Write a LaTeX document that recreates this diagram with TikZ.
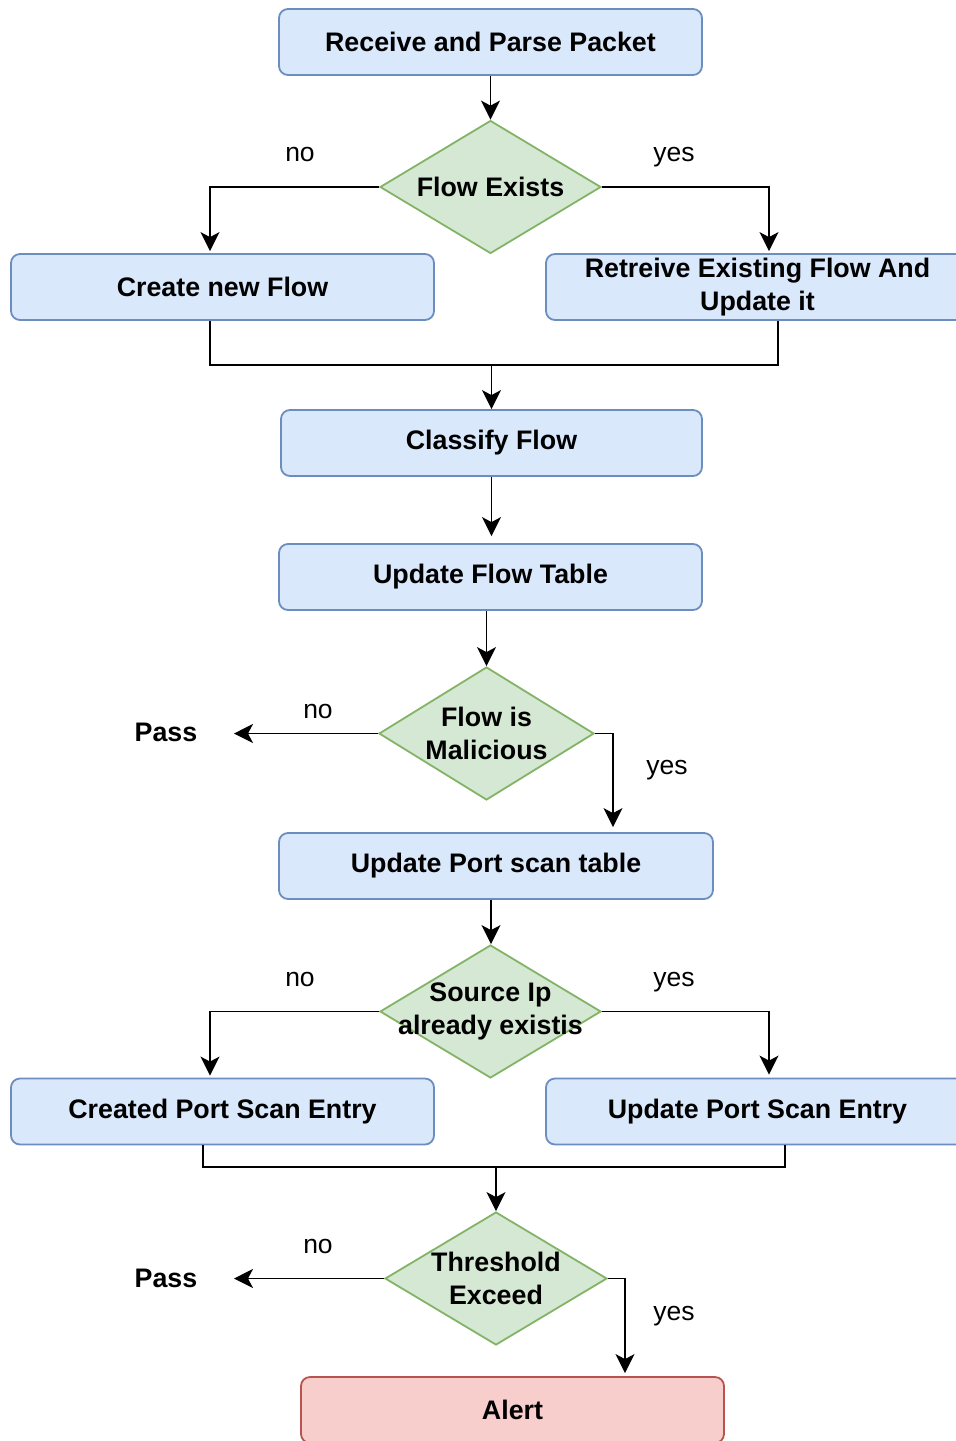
\documentclass[tikz,border=0pt]{standalone}
\usepackage{fontspec}
\setmainfont{Liberation Sans}
\usetikzlibrary{shapes.geometric,arrows.meta}
\definecolor{procfill}{HTML}{DAE8FC}
\definecolor{procdraw}{HTML}{6C8EBF}
\definecolor{decfill}{HTML}{D5E8D4}
\definecolor{decdraw}{HTML}{82B366}
\definecolor{alertfill}{HTML}{F8CECC}
\definecolor{alertdraw}{HTML}{B85450}
\begin{document}
\begin{tikzpicture}[x=1pt,y=-1pt,
  bigfont/.style={font=\bfseries\fontsize{26.8}{33.5}\selectfont},
  proc/.style={draw=procdraw, fill=procfill, line width=1.8pt, rounded corners=9pt,
    minimum width=423pt, minimum height=66pt, inner sep=0pt, align=center, bigfont},
  alertbox/.style={proc, draw=alertdraw, fill=alertfill},
  decision/.style={diamond, draw=decdraw, fill=decfill, line width=1.8pt,
    minimum width=221pt, minimum height=133pt, inner sep=0pt},
  dtext/.style={align=center, bigfont, inner sep=0pt},
  passtxt/.style={bigfont, inner sep=0pt},
  lbl/.style={font=\fontsize{26.5}{30}\selectfont, inner sep=0pt},
  arr/.style={line width=1.8pt, -{Stealth[length=19pt,width=19pt,inset=5pt]}},
  link/.style={line width=1.8pt}
]
\useasboundingbox (0,0) rectangle (956,1441);
\clip (0,0) rectangle (956,1441);

% process steps
\node[proc] (recv) at (490.5,42) {Receive and Parse Packet};
\node[decision] (fe) at (490.5,187) {};
\node[dtext] (fet) at (fe.center) {Flow Exists};
\node[proc] (newf) at (222.5,287) {Create new Flow};
\node[proc] (retr) at (757.5,287) {Retreive Existing Flow And\\Update it};
\node[proc, minimum width=421pt] (cls) at (491.5,443) {Classify Flow};
\node[proc] (uft) at (490.5,577) {Update Flow Table};
\node[decision, minimum width=215pt] (mal) at (486.5,733.5) {};
\node[dtext] (malt) at (mal.center) {Flow is\\Malicious};
\node[passtxt] (pass1) at (166,732) {Pass};
\coordinate (p1) at (234,733.5);
\node[proc, minimum width=434pt] (ups) at (496,866) {Update Port scan table};
\node[decision] (src) at (490.5,1011.5) {};
\node[dtext] (srct) at (src.center) {Source Ip\\already existis};
\node[proc] (cpe) at (222.5,1111.5) {Created Port Scan Entry};
\node[proc] (upe) at (757.5,1111.5) {Update Port Scan Entry};
\node[decision, minimum width=222pt] (thr) at (496,1278.5) {};
\node[dtext] (thrt) at (thr.center) {Threshold\\Exceed};
\node[passtxt] (pass2) at (166,1278) {Pass};
\coordinate (p2) at (234,1278.5);
\node[alertbox] (alert) at (512.5,1410) {Alert};

% branch labels
\node[lbl] (l1n) at (300,154) {no};
\node[lbl] (l1y) at (674,157) {yes};
\node[lbl] (l2n) at (318,711) {no};
\node[lbl] (l2y) at (667,770) {yes};
\node[lbl] (l3n) at (300,979) {no};
\node[lbl] (l3y) at (674,982) {yes};
\node[lbl] (l4n) at (318,1246) {no};
\node[lbl] (l4y) at (674,1316) {yes};

% connectors
\draw[arr] (recv.south) -- (fe.north);
\draw[arr, shorten >=2pt] (fe.west) -| ([xshift=-12.5pt]newf.north);
\draw[arr, shorten >=2pt] (fe.east) -| ([xshift=11.5pt]retr.north);
\coordinate (m1) at (491.5,365);
\draw[link] ([xshift=-12.5pt]newf.south) |- (m1) -| ([xshift=20.5pt]retr.south);
\draw[arr] (m1) -- (cls.north);
\draw[arr, shorten >=7pt] (cls.south) -- (cls.south |- uft.north);
\draw[arr] ([xshift=-4pt]uft.south) -- (mal.north);
\draw[arr] (mal.west) -- (p1);
\draw[arr, shorten >=5pt] (mal.east) -| ([xshift=117pt]ups.north);
\draw[arr] ([xshift=-5pt]ups.south) -- ([xshift=-5pt]ups.south |- src.north);
\draw[arr, shorten >=2pt] (src.west) -| ([xshift=-12.5pt]cpe.north);
\draw[arr, shorten >=3pt] (src.east) -| ([xshift=11.5pt]upe.north);
\coordinate (m2) at (496,1167);
\draw[link] ([xshift=-19.5pt]cpe.south) |- (m2) -| ([xshift=27.5pt]upe.south);
\draw[arr] (m2) -- (thr.north);
\draw[arr] (thr.west) -- (p2);
\draw[arr, shorten >=3pt] (thr.east) -| ([xshift=112.5pt]alert.north);
\end{tikzpicture}
\end{document}
